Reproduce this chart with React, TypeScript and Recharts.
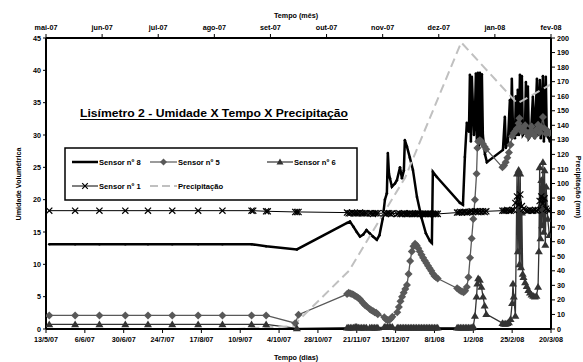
import { LineChart, Line, XAxis, YAxis } from 'recharts';

// eixo inferior: dias desde 13/5/07
const diasTicks = [0, 24, 48, 72, 96, 120, 144, 168, 192, 216, 240, 264, 288, 312];
const diasLabels = ['13/5/07', '6/6/07', '30/6/07', '24/7/07', '17/8/07', '10/9/07', '4/10/07', '28/10/07', '21/11/07', '15/12/07', '8/1/08', '1/2/08', '25/2/08', '20/3/08'];

// eixo superior: meses
const mesTicks = [0, 1, 2, 3, 4, 5, 6, 7, 8, 9];
const mesLabels = ['mai-07', 'jun-07', 'jul-07', 'ago-07', 'set-07', 'out-07', 'nov-07', 'dez-07', 'jan-08', 'fev-08'];

const umidTicks = [0, 5, 10, 15, 20, 25, 30, 35, 40, 45];
const mmTicks = [0, 10, 20, 30, 40, 50, 60, 70, 80, 90, 100, 110, 120, 130, 140, 150, 160, 170, 180, 190, 200];

// precipitação mensal (posição em meses a partir de mai-07)
const precipMes = [0.4, 1.4, 2.4, 3.4, 4.4, 5.4, 6.4, 7.4, 8.4, 9.4];
const precipMm = [0, 0, 0, 0, 2, 40, 104, 197, 155, 177];

// [dia, umidade]
const sensor8: [number, number][] = [
  [2, 13.1], [18, 13.1], [33, 13.1], [49, 13.1], [63, 13.1], [78, 13.1], [94, 13.1], [109, 13.1], [127, 13.1], [136, 12.8], [155, 12.3],
  [186, 16.4], [187.8, 16.6], [190, 15.8], [192, 15.0], [194, 14.3], [196, 14.6], [198, 15.3],
  [200, 14.8], [202, 14.3], [204.4, 13.8],
  [206, 14.5], [208, 17], [209.4, 20], [210.6, 21], [211.2, 27.2], [211.9, 24], [212.5, 23.3], [213.7, 22],
  [215.6, 22.5], [216.8, 23], [218.7, 25], [219.9, 23.3], [221.1, 24.5], [221.7, 29.2], [223, 28.2], [224.8, 26.5], [226.7, 24.6],
  [229.2, 20.4], [232, 17.2], [234.7, 14.8], [237.2, 13.6], [238.4, 13.3], [239, 24.3], [241.5, 23.5],
  [255.7, 19.5], [257.6, 19.2], [258.8, 26.6], [260, 31.9], [261.3, 30.5], [261.9, 39.3], [262.5, 29], [263.1, 39], [264.4, 30],
  [265, 33], [265.6, 39.5], [266.2, 29], [266.8, 39.6], [267.4, 28], [268.1, 39.6], [268.7, 29], [269.3, 39.4], [269.9, 30],
  [271.2, 27], [272.4, 25.8],
  [282.3, 27.7], [283.5, 32.8], [284.1, 28], [285.4, 29], [286.6, 35.4], [287.2, 30], [287.8, 38.7], [288.5, 31], [289.7, 29.5],
  [290.3, 36], [290.9, 30], [291.5, 37], [292.2, 30], [292.8, 39.3], [293.4, 31], [294, 39.1], [294.6, 30], [295.9, 30.5],
  [296.5, 38.2], [297.1, 30], [297.7, 37.5], [298.3, 29.5], [299.6, 30], [300.8, 35.9], [302, 29.5], [303.3, 38.7], [303.9, 30],
  [305.1, 38.5], [305.7, 29.5], [307, 39.1], [307.6, 29], [308.8, 39], [309.4, 30], [310.7, 29.5], [311.3, 29],
];

const sensor5: [number, number][] = [
  [2, 2.1], [18, 2.1], [33, 2.1], [49, 2.1], [63, 2.1], [78, 2.1], [94, 2.1], [109, 2.1], [127, 2.1], [136, 2.1], [154, 0.9], [156, 2.2],
  [186, 5.4], [187, 5.6], [188, 5.5], [189, 5.4], [190, 5.3], [191, 5.1], [192, 5.0], [193, 4.8], [194, 4.6], [195, 4.3], [196, 4.0], [197, 3.7], [198, 3.5],
  [200, 3.1], [201, 2.9], [202, 2.8], [203, 2.6], [204, 2.5], [205, 2.3],
  [209, 1.8], [210, 1.5], [211, 1.4], [212, 1.4], [213, 1.6], [214, 1.9],
  [217, 2.6], [218, 3.4], [219, 4.3], [220, 5.0], [221, 5.6], [222, 6.2], [223, 6.8], [224, 8.5], [225, 10.5], [226, 12.0],
  [227, 12.8], [228, 13.2], [229, 12.9], [230, 12.5], [231, 12.0], [232, 11.5], [233, 11.0], [234, 10.6], [235, 10.2], [236, 9.8],
  [237, 9.4], [238, 9.0], [239, 8.6], [240, 8.2], [241, 8.0], [242, 7.8],
  [254, 6.3], [255, 6.1], [256, 5.9], [257, 5.8], [258, 5.7], [259, 5.9], [260, 6.5], [261, 8], [262, 11], [263, 14], [264, 17],
  [265, 20], [266, 24], [266.5, 28], [267, 29], [268, 29.2], [269, 29], [270, 28.6], [271, 28.2], [272, 27.8],
  [282, 25.0], [283, 25.3], [284, 25.8], [285, 26.5], [286, 27.3], [287, 28.5], [288, 29.8], [289, 30.3], [290, 30.6], [291, 31.0],
  [292, 31.8], [292.5, 32.6], [293, 31.2], [294, 30.5], [295, 30.8], [296, 31.5], [297, 30.4], [298, 29.8], [299, 30.5], [300, 31.3],
  [301, 30.2], [302, 29.9], [303, 30.8], [304, 31.6], [305, 30.4], [306, 31.2], [307, 32.8], [308, 31.0], [309, 30.2], [310, 30.6], [311, 30.3],
];

const sensor6: [number, number][] = [
  [2, 0.7], [18, 0.7], [33, 0.7], [49, 0.7], [63, 0.7], [78, 0.7], [94, 0.7], [109, 0.7], [127, 0.7], [136, 0.7], [155, 0.1],
  [186, 0.2], [187, 0.2], [188, 0.2], [189, 0.2], [190, 0.2], [191, 0.3], [192, 0.3], [193, 0.2], [194, 0.2], [195, 0.2], [196, 0.2], [197, 0.2], [198, 0.2],
  [200, 0.2], [201, 0.2], [202, 0.2], [203, 0.2], [204, 0.2], [205, 0.2],
  [209, 0.3], [210, 0.3], [211, 0.3], [212, 0.3], [213, 0.3], [214, 0.3],
  [217, 0.2], [218, 0.2], [219, 0.2], [220, 0.2], [221, 0.2], [222, 0.2], [223, 0.2], [224, 0.2], [225, 0.2], [226, 0.2],
  [227, 0.2], [228, 0.2], [229, 0.2], [230, 0.2], [231, 0.2], [232, 0.2], [233, 0.2], [234, 0.2], [235, 0.2], [236, 0.2],
  [237, 0.2], [238, 0.2], [239, 0.2], [240, 0.2], [241, 0.2], [242, 0.2],
  [254, 0.2], [255, 0.2], [256, 0.2], [257, 0.2], [258, 0.2], [259, 0.2], [260, 0.2], [261, 0.2], [262, 0.2], [263, 0.2],
  [264, 0.4], [265, 2.0], [266, 5.0], [266.5, 7.0], [267, 7.8], [268, 7.6], [269, 6.5], [270, 5.0], [271, 3.6], [272, 2.3],
  [282, 0.9], [283, 0.8], [284, 0.8], [285, 0.9], [286, 1.0], [287, 1.5], [288, 4.0], [288.5, 7.0], [289, 5.0], [290, 2.0],
  [291, 24.0], [291.5, 12.0], [292, 24.6], [292.5, 10.0], [293, 24.0], [293.5, 9.5], [294, 18.0], [294.5, 8.5], [295, 8.0],
  [296, 7.2], [297, 6.6], [298, 6.0], [299, 5.6], [300, 5.3], [301, 5.1], [302, 5.0], [303, 5.1], [304, 6.5], [304.5, 12],
  [305, 25.0], [305.5, 14], [306, 23.0], [306.5, 16], [307, 25.8], [307.5, 15], [308, 24.5], [308.5, 13], [309, 22.0], [310, 17.0], [311, 14.5],
];

const sensor1: [number, number][] = [
  [2, 18.3], [18, 18.3], [33, 18.3], [49, 18.3], [63, 18.3], [78, 18.3], [94, 18.3], [109, 18.3], [127, 18.3], [128, 18.3],
  [136, 18.2], [137, 18.2], [154, 18.1], [155, 18.1], [156, 18.1],
  [186, 18.0], [187, 17.9], [188, 17.9], [189, 18.0], [190, 17.9], [191, 17.9], [192, 17.9], [193, 17.9], [194, 18.0], [195, 17.9], [196, 17.9], [197, 17.9], [198, 17.9],
  [200, 17.9], [201, 17.9], [202, 17.8], [203, 17.9], [204, 17.9], [205, 17.9],
  [209, 17.9], [210, 17.8], [211, 17.9], [212, 17.9], [213, 17.8], [214, 17.9],
  [217, 17.8], [218, 17.9], [219, 17.8], [220, 17.8], [221, 17.9], [222, 17.8], [223, 17.8], [224, 17.8], [225, 17.9], [226, 17.8],
  [227, 17.8], [228, 17.8], [229, 17.8], [230, 17.9], [231, 17.8], [232, 17.8], [233, 17.8], [234, 17.8], [235, 17.8], [236, 17.8],
  [237, 17.8], [238, 17.8], [239, 17.8], [240, 17.8], [241, 17.8], [242, 17.8],
  [254, 18.0], [255, 18.0], [256, 18.1], [257, 18.0], [258, 18.1], [259, 18.1], [260, 18.0], [261, 18.1], [262, 18.1], [263, 18.2],
  [264, 18.1], [265, 18.2], [266, 18.2], [267, 18.1], [268, 18.2], [269, 18.1], [270, 18.2], [271, 18.1], [272, 18.2],
  [282, 18.3], [283, 18.3], [284, 18.3], [285, 18.4], [286, 18.3], [287, 18.3], [288, 18.4], [289, 18.4], [290, 19.5], [291, 20.5],
  [292, 19.2], [293, 20.8], [294, 19.0], [295, 18.6], [296, 18.4], [297, 18.3], [298, 18.3], [299, 18.4], [300, 18.3], [301, 18.3],
  [302, 18.4], [303, 18.3], [304, 18.4], [305, 19.8], [306, 20.5], [307, 19.4], [308, 20.2], [309, 18.6], [310, 18.4], [311, 18.3],
];

const FONT = 'Liberation Sans, Arial, sans-serif';
const tickStyle = { fontSize: 7.2, fontWeight: 700, fill: '#000', fontFamily: FONT };
const C5 = '#595959';
const C6 = '#333333';
const CP = '#c0c0c0';

const pts = (arr: [number, number][]) => arr.map(([d, v]) => ({ d, v }));
const precipData = precipMes.map((m, i) => ({ m, p: precipMm[i] }));

const diamondPath = (cx: number, cy: number, r = 4) => `M${cx},${cy - r}L${cx + r},${cy}L${cx},${cy + r}L${cx - r},${cy}Z`;
const trianglePath = (cx: number, cy: number, r = 4) => `M${cx},${cy - r}L${cx + r},${cy + r * 0.7}L${cx - r},${cy + r * 0.7}Z`;
const crossPath = (cx: number, cy: number, r = 3.1) => `M${cx - r},${cy - r}L${cx + r},${cy + r}M${cx - r},${cy + r}L${cx + r},${cy - r}`;

const DotS8 = (p: any) => p.cx == null ? <g key={p.index} /> : <circle key={p.index} cx={p.cx} cy={p.cy} r={1.3} fill="#000" />;
const DotS5 = (p: any) => p.cx == null ? <g key={p.index} /> : <path key={p.index} d={diamondPath(p.cx, p.cy)} fill={C5} />;
const DotS6 = (p: any) => p.cx == null ? <g key={p.index} /> : <path key={p.index} d={trianglePath(p.cx, p.cy)} fill={C6} />;
const DotS1 = (p: any) => p.cx == null ? <g key={p.index} /> : <path key={p.index} d={crossPath(p.cx, p.cy)} stroke="#000" strokeWidth={1.2} fill="none" />;

const legendText = { fontSize: 7.6, fontWeight: 700, fontFamily: FONT, fill: '#000', dominantBaseline: 'central' as const };

function Overlay() {
  return (
    <svg width={583} height={362} style={{ position: 'absolute', left: 0, top: 0, pointerEvents: 'none' }}>
      <text x={296} y={15} textAnchor="middle" dominantBaseline="central" fontSize={7.2} fontWeight={700} fontFamily={FONT}>Tempo (mês)</text>
      <text x={296} y={357} textAnchor="middle" dominantBaseline="central" fontSize={7.2} fontWeight={700} fontFamily={FONT}>Tempo (dias)</text>
      <text x={18} y={184} textAnchor="middle" dominantBaseline="central" fontSize={7.2} fontWeight={700} fontFamily={FONT} transform="rotate(-90 18 184)">Umidade Volumétrica</text>
      <text x={578} y={187} textAnchor="middle" dominantBaseline="central" fontSize={7.2} fontWeight={700} fontFamily={FONT} transform="rotate(90 578 187)">Precipitação (mm)</text>

      <text x={214} y={113} textAnchor="middle" dominantBaseline="central" fontSize={11} fontWeight={700} fontFamily={FONT} textLength={268} lengthAdjust="spacingAndGlyphs">Lisímetro 2 - Umidade X Tempo X Precipitação</text>
      <line x1={80} x2={348} y1={119.5} y2={119.5} stroke="#000" strokeWidth={1} />

      <rect x={65} y={148} width={292} height={52} fill="#fff" stroke="#000" strokeWidth={1.5} />
      <line x1={72} x2={98} y1={162} y2={162} stroke="#000" strokeWidth={2.5} />
      <text x={99} y={162} {...legendText}>Sensor nº 8</text>
      <line x1={150} x2={177} y1={162} y2={162} stroke={C5} strokeWidth={1.2} />
      <path d={diamondPath(163.5, 162, 3.5)} fill={C5} />
      <text x={178} y={162} {...legendText}>Sensor nº 5</text>
      <line x1={267} x2={293} y1={162} y2={162} stroke={C6} strokeWidth={1.2} />
      <path d={trianglePath(280, 162, 3.5)} fill={C6} />
      <text x={294} y={162} {...legendText}>Sensor nº 6</text>
      <line x1={72} x2={98} y1={186} y2={186} stroke="#000" strokeWidth={1} />
      <path d={crossPath(85, 186, 2.8)} stroke="#000" strokeWidth={1.2} fill="none" />
      <text x={99} y={186} {...legendText}>Sensor nº 1</text>
      <line x1={150} x2={177} y1={186} y2={186} stroke={CP} strokeWidth={2} strokeDasharray="8 4" />
      <text x={178} y={186} {...legendText}>Precipitação</text>
    </svg>
  );
}

export default function App() {
  const axisLine = { stroke: '#000', strokeWidth: 2 };
  const tickLine = { stroke: '#000', strokeWidth: 1 };
  return (
    <div style={{ position: 'absolute', left: 0, top: 0, width: 583, height: 362, background: '#fff' }}>
      <LineChart width={583} height={362} margin={{ top: 0, right: 0, bottom: 0, left: 0 }}>
        <XAxis xAxisId="dias" dataKey="d" type="number" orientation="bottom" height={33} domain={[0, 312]} ticks={diasTicks}
          interval={0} allowDataOverflow tickFormatter={(v: number) => diasLabels[diasTicks.indexOf(v)] ?? ''}
          axisLine={axisLine} tickLine={tickLine} tickSize={4} tickMargin={4} tick={tickStyle} />
        <XAxis xAxisId="mes" dataKey="m" type="number" orientation="top" height={38} domain={[0, 9]} ticks={mesTicks}
          interval={0} allowDataOverflow tickFormatter={(v: number) => mesLabels[mesTicks.indexOf(v)] ?? ''}
          axisLine={axisLine} tickLine={tickLine} tickSize={4} tickMargin={4} tick={tickStyle} />
        <YAxis yAxisId="umid" orientation="left" width={46} domain={[0, 45]} ticks={umidTicks} interval={0}
          axisLine={axisLine} tickLine={tickLine} tickSize={3} tickMargin={2} tick={tickStyle} />
        <YAxis yAxisId="mm" orientation="right" width={32} domain={[0, 200]} ticks={mmTicks} interval={0}
          axisLine={axisLine} tickLine={tickLine} tickSize={4} tickMargin={2} tick={tickStyle} />

        <Line data={pts(sensor8)} xAxisId="dias" yAxisId="umid" dataKey="v" stroke="#000" strokeWidth={2.5}
          dot={DotS8} activeDot={false} isAnimationActive={false} />
        <Line data={pts(sensor5)} xAxisId="dias" yAxisId="umid" dataKey="v" stroke={C5} strokeWidth={1.3}
          dot={DotS5} activeDot={false} isAnimationActive={false} />
        <Line data={pts(sensor6)} xAxisId="dias" yAxisId="umid" dataKey="v" stroke={C6} strokeWidth={1.3}
          dot={DotS6} activeDot={false} isAnimationActive={false} />
        <Line data={pts(sensor1)} xAxisId="dias" yAxisId="umid" dataKey="v" stroke="#000" strokeWidth={1}
          dot={DotS1} activeDot={false} isAnimationActive={false} />
        <Line data={precipData} xAxisId="mes" yAxisId="mm" dataKey="p" stroke={CP} strokeWidth={2}
          strokeDasharray="9 5" dot={false} activeDot={false} isAnimationActive={false} />
      </LineChart>
      <Overlay />
    </div>
  );
}
